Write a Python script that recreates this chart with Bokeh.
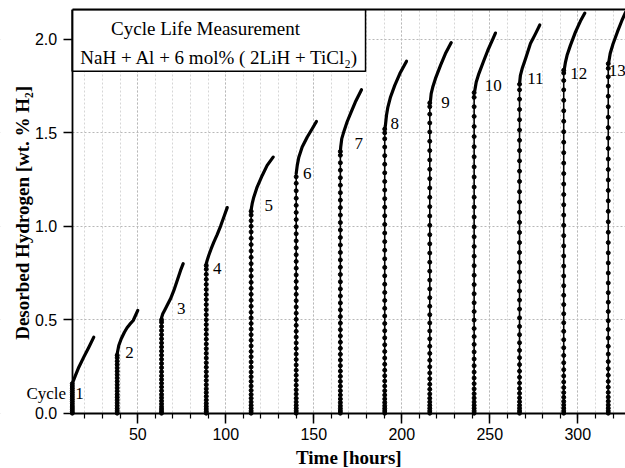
import math
from bokeh.plotting import figure
from bokeh.models import (ColumnDataSource, SingleIntervalTicker, LinearAxis, Label,
                          FixedTicker, PrintfTickFormatter, Range1d)
from bokeh.core.properties import value
from bokeh.embed import file_html
from bokeh.resources import INLINE

# ---------------- data ----------------
start_times = [12.8, 38.3, 63.5, 88.9, 114.4, 140.0, 165.1, 190.3, 215.9, 241.1, 266.9, 292.0, 317.3]

vert_h = [
    [0, 0.008, 0.018, 0.028, 0.038, 0.05, 0.062, 0.074, 0.086, 0.098, 0.11, 0.122, 0.134, 0.146, 0.158],
    [0, 0.012, 0.025, 0.04, 0.055, 0.07, 0.085, 0.10, 0.118, 0.135, 0.152, 0.17, 0.188, 0.206, 0.224, 0.242, 0.26, 0.278, 0.296, 0.31],
    [0, 0.01, 0.022, 0.035, 0.05, 0.066, 0.083, 0.10, 0.12, 0.14, 0.16, 0.18, 0.2, 0.222, 0.244, 0.266, 0.288, 0.31, 0.332, 0.354, 0.376, 0.398, 0.42, 0.442, 0.464, 0.486, 0.50],
    [0, 0.01, 0.022, 0.036, 0.052, 0.07, 0.09, 0.11, 0.13, 0.152, 0.175, 0.198, 0.222, 0.246, 0.27, 0.295, 0.32, 0.345, 0.37, 0.396, 0.422, 0.448, 0.474, 0.5, 0.527, 0.554, 0.581, 0.608, 0.635, 0.662, 0.689, 0.716, 0.743, 0.77, 0.79],
    [0, 0.012, 0.026, 0.042, 0.06, 0.08, 0.1, 0.122, 0.145, 0.17, 0.195, 0.22, 0.247, 0.274, 0.302, 0.33, 0.36, 0.39, 0.42, 0.45, 0.48, 0.51, 0.54, 0.572, 0.604, 0.636, 0.668, 0.7, 0.733, 0.766, 0.8, 0.834, 0.868, 0.902, 0.936, 0.97, 1.0, 1.03, 1.06, 1.08],
    [0, 0.012, 0.026, 0.042, 0.06, 0.08, 0.102, 0.125, 0.15, 0.176, 0.203, 0.23, 0.258, 0.287, 0.316, 0.346, 0.376, 0.407, 0.438, 0.47, 0.502, 0.535, 0.568, 0.602, 0.636, 0.67, 0.705, 0.74, 0.776, 0.812, 0.848, 0.885, 0.922, 0.96, 0.998, 1.036, 1.074, 1.112, 1.15, 1.19, 1.23, 1.265],
    [0, 0.012, 0.025, 0.04, 0.057, 0.076, 0.097, 0.12, 0.144, 0.17, 0.197, 0.225, 0.254, 0.284, 0.315, 0.347, 0.38, 0.413, 0.447, 0.482, 0.517, 0.553, 0.59, 0.627, 0.665, 0.703, 0.742, 0.781, 0.82, 0.86, 0.9, 0.94, 0.98, 1.02, 1.06, 1.1, 1.14, 1.18, 1.22, 1.26, 1.3, 1.34, 1.38, 1.40],
    [0, 0.012, 0.025, 0.04, 0.057, 0.076, 0.097, 0.12, 0.145, 0.172, 0.2, 0.23, 0.262, 0.295, 0.33, 0.366, 0.403, 0.441, 0.48, 0.52, 0.561, 0.603, 0.646, 0.69, 0.735, 0.78, 0.826, 0.872, 0.918, 0.964, 1.01, 1.056, 1.102, 1.148, 1.194, 1.24, 1.286, 1.332, 1.378, 1.424, 1.468, 1.5, 1.52],
    [0, 0.012, 0.026, 0.042, 0.06, 0.08, 0.103, 0.128, 0.155, 0.184, 0.215, 0.248, 0.283, 0.32, 0.358, 0.398, 0.44, 0.483, 0.527, 0.572, 0.618, 0.665, 0.712, 0.76, 0.808, 0.857, 0.906, 0.955, 1.005, 1.055, 1.105, 1.155, 1.205, 1.255, 1.305, 1.355, 1.405, 1.455, 1.505, 1.553, 1.6, 1.64, 1.66],
    [0, 0.012, 0.026, 0.042, 0.06, 0.081, 0.104, 0.13, 0.158, 0.188, 0.22, 0.254, 0.29, 0.328, 0.368, 0.41, 0.453, 0.498, 0.544, 0.591, 0.639, 0.688, 0.738, 0.789, 0.84, 0.892, 0.944, 0.997, 1.05, 1.103, 1.156, 1.21, 1.264, 1.318, 1.372, 1.426, 1.48, 1.534, 1.588, 1.64, 1.69, 1.715],
    [0, 0.012, 0.026, 0.042, 0.061, 0.082, 0.106, 0.132, 0.161, 0.192, 0.225, 0.26, 0.297, 0.336, 0.377, 0.42, 0.464, 0.51, 0.557, 0.605, 0.654, 0.704, 0.755, 0.807, 0.86, 0.913, 0.967, 1.021, 1.075, 1.13, 1.185, 1.24, 1.295, 1.35, 1.405, 1.46, 1.515, 1.57, 1.625, 1.68, 1.73, 1.76],
    [0, 0.012, 0.027, 0.044, 0.063, 0.085, 0.11, 0.137, 0.167, 0.199, 0.233, 0.27, 0.309, 0.35, 0.393, 0.438, 0.484, 0.532, 0.581, 0.631, 0.682, 0.734, 0.787, 0.841, 0.895, 0.95, 1.005, 1.06, 1.115, 1.17, 1.226, 1.282, 1.338, 1.394, 1.45, 1.506, 1.562, 1.618, 1.674, 1.73, 1.78, 1.82, 1.835],
    [0, 0.012, 0.027, 0.044, 0.064, 0.086, 0.111, 0.139, 0.17, 0.203, 0.238, 0.276, 0.316, 0.358, 0.402, 0.448, 0.495, 0.544, 0.594, 0.645, 0.697, 0.75, 0.804, 0.858, 0.913, 0.968, 1.024, 1.08, 1.136, 1.192, 1.248, 1.304, 1.36, 1.416, 1.472, 1.528, 1.584, 1.64, 1.696, 1.75, 1.8, 1.845, 1.87],
]

curve_t = [
    [12.8, 13.1, 14.6, 16.5, 19.3, 22.2, 25.0],
    [38.3, 39.2, 40.6, 42.4, 43.9, 45.4, 47.4, 50.0],
    [63.5, 64.2, 65.2, 66.7, 68.6, 70.5, 72.4, 74.3, 75.8],
    [88.9, 89.4, 90.3, 91.7, 93.2, 95.1, 97.0, 98.9, 100.8],
    [114.4, 115.0, 115.9, 117.8, 120.7, 123.5, 126.9],
    [140.0, 140.6, 141.5, 143.4, 146.3, 149.1, 151.5],
    [165.1, 165.3, 165.9, 167.0, 168.9, 171.2, 173.6, 177.1],
    [190.3, 190.7, 191.3, 192.1, 193.6, 196.0, 198.9, 202.7],
    [215.9, 216.3, 216.7, 217.6, 219.1, 222.0, 224.8, 228.1],
    [241.1, 241.5, 242.3, 243.8, 246.3, 248.9, 251.4, 253.2],
    [266.9, 267.0, 267.4, 268.4, 270.3, 273.1, 276.0, 278.4],
    [292.0, 292.4, 293.0, 293.9, 295.8, 298.7, 301.5, 304.0],
    [317.3, 317.6, 318.4, 320.0, 322.5, 325.0, 327.1],
]
curve_h = [
    [0.16, 0.166, 0.202, 0.246, 0.30, 0.353, 0.407],
    [0.318, 0.362, 0.398, 0.433, 0.457, 0.475, 0.496, 0.55],
    [0.511, 0.532, 0.55, 0.577, 0.612, 0.657, 0.71, 0.764, 0.80],
    [0.80, 0.817, 0.844, 0.88, 0.915, 0.955, 1.0, 1.05, 1.10],
    [1.089, 1.121, 1.156, 1.21, 1.272, 1.326, 1.37],
    [1.282, 1.326, 1.37, 1.424, 1.478, 1.522, 1.561],
    [1.40, 1.424, 1.469, 1.504, 1.558, 1.611, 1.665, 1.731],
    [1.52, 1.54, 1.594, 1.638, 1.692, 1.754, 1.817, 1.883],
    [1.66, 1.674, 1.71, 1.745, 1.79, 1.861, 1.924, 1.983],
    [1.715, 1.728, 1.772, 1.817, 1.879, 1.942, 1.995, 2.034],
    [1.76, 1.772, 1.808, 1.844, 1.897, 1.978, 2.031, 2.077],
    [1.835, 1.844, 1.879, 1.915, 1.968, 2.04, 2.098, 2.141],
    [1.87, 1.879, 1.925, 1.975, 2.04, 2.10, 2.145],
]

cycle_labels = ["1", "2", "3", "4", "5", "6", "7", "8", "9", "10", "11", "12", "13"]
label_t = [16.9, 45.3, 74.7, 95.1, 124.4, 146.3, 175.6, 196.0, 224.8, 251.9, 275.9, 300.6, 322.4]
label_h = [0.107, 0.327, 0.559, 0.776, 1.112, 1.282, 1.442, 1.549, 1.66, 1.754, 1.79, 1.817, 1.835]

x_ticks_interval = 50
y_ticks_interval = 0.5

SERIF = "Liberation Serif"
SANS = "Liberation Sans"

# layout constants (axis origin / visible data window)
X0, X1 = 12.7, 327.1
Y0, Y1 = 0.0, 2.16
XPAD = -28.0     # frame extends left of the y axis so its texts stay inside the frame
YPAD = -0.296    # frame extends below the x axis for the same reason

# ---------------- figure ----------------
p = figure(width=625, height=468, output_backend="svg", toolbar_location=None,
           x_range=Range1d(XPAD, X1), y_range=Range1d(YPAD, Y1),
           min_border_left=0, min_border_right=0, min_border_top=9, min_border_bottom=0)
p.outline_line_color = None
p.background_fill_color = "white"
p.border_fill_color = "white"

p.xaxis.ticker = SingleIntervalTicker(interval=x_ticks_interval, num_minor_ticks=5)
p.xaxis.bounds = (X0, 400)
p.xaxis.fixed_location = Y0
p.yaxis.ticker = SingleIntervalTicker(interval=y_ticks_interval, num_minor_ticks=0)
p.yaxis.formatter = PrintfTickFormatter(format="%.1f")
p.yaxis.bounds = (Y0, 5)
p.yaxis.fixed_location = X0

for ax in (p.xaxis[0], p.yaxis[0]):
    ax.axis_line_width = 1.8
    ax.axis_line_color = "black"
    ax.major_tick_line_width = 1.5
    ax.major_tick_line_color = "black"
    ax.major_tick_in = 0
    ax.major_label_text_font = SANS
    ax.major_label_text_font_size = "16px"
    ax.major_label_text_color = "black"

p.xaxis.major_tick_out = 10
p.xaxis.minor_tick_out = 5
p.xaxis.minor_tick_in = 0
p.xaxis.minor_tick_line_width = 1.2
p.xaxis.minor_tick_line_color = "black"
p.xaxis.major_label_standoff = 5

p.yaxis.major_tick_out = 9
p.yaxis.minor_tick_line_color = None
p.yaxis.major_label_standoff = 6

top = LinearAxis(ticker=FixedTicker(ticks=[]), axis_line_width=1.8, axis_line_color="black",
                 major_tick_out=0, major_tick_in=0, minor_tick_out=0, minor_tick_in=0,
                 major_label_text_font_size="0px", major_label_standoff=0, bounds=(X0, 400))
p.add_layout(top, "above")

p.xgrid.bounds = (X0, 400)
p.xgrid.grid_line_color = "#b8b8b8"
p.xgrid.grid_line_dash = "2 2"
p.xgrid.minor_grid_line_color = "#d6d6d6"
p.xgrid.minor_grid_line_dash = "2 2"
p.ygrid.bounds = (Y0, 5)
p.ygrid.grid_line_color = "#b8b8b8"
p.ygrid.grid_line_dash = "2 2"

# white margins outside the axes (hide grid there)
p.quad(left=[XPAD], right=[X0], bottom=[YPAD], top=[Y1], fill_color="white", line_color=None)
p.quad(left=[X0], right=[X1], bottom=[YPAD], top=[Y0], fill_color="white", line_color=None)

# title box
p.quad(left=[X0], right=[179.4], bottom=[1.829], top=[Y1],
       fill_color="white", line_color="black", line_width=1.5)

# cycles
for i in range(len(start_times)):
    vt = [start_times[i]] * len(vert_h[i])
    vh = vert_h[i]
    p.line(vt + curve_t[i], vh + curve_h[i], line_color="black", line_width=1.6)
    p.line(curve_t[i], curve_h[i], line_color="black", line_width=3.2, line_join="round", line_cap="round")
    p.scatter(vt, vh, size=4, color="black", marker="circle")

lab_src = ColumnDataSource(dict(x=label_t, y=label_h, text=cycle_labels))
p.text(x="x", y="y", text="text", source=lab_src, text_font=value(SERIF),
       text_font_size="17px", text_align="center", text_baseline="middle", text_color="black")

p.add_layout(Label(x=X0, y=0.107, x_offset=-6, text="Cycle", text_font=SERIF,
                   text_font_size="17px", text_align="right", text_baseline="middle",
                   text_color="black"))
p.add_layout(Label(x=88.5, y=2.059, text="Cycle Life Measurement", text_font=SERIF,
                   text_font_size="19px", text_align="center", text_baseline="middle",
                   text_color="black"))
p.add_layout(Label(x=96.4, y=1.904, text="NaH + Al + 6 mol% ( 2LiH + TiCl\u2082)", text_font=SERIF,
                   text_font_size="19px", text_align="center", text_baseline="middle",
                   text_color="black"))

# axis titles
p.add_layout(Label(x=(X0 + X1) / 2, y=-0.2355, text="Time [hours]", text_font=SERIF,
                   text_font_size="19px", text_font_style="bold", text_align="center",
                   text_baseline="middle", text_color="black"))
p.add_layout(Label(x=-15.5, y=1.072, text="Desorbed Hydrogen [wt. % H\u2082]", text_font=SERIF,
                   text_font_size="19px", text_font_style="bold", text_align="center",
                   text_baseline="middle", text_color="black", angle=math.pi / 2))

open("out.html", "w").write(file_html(p, INLINE))
